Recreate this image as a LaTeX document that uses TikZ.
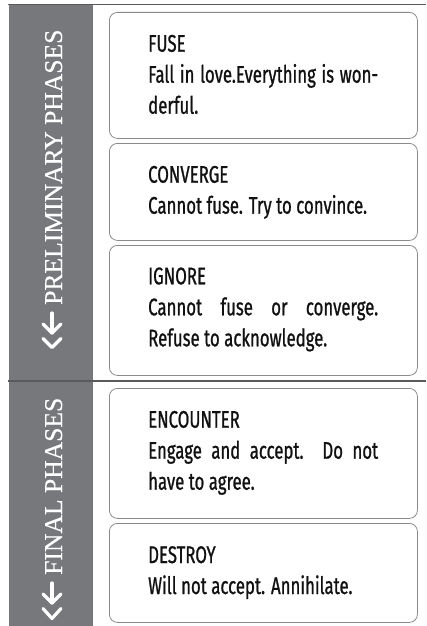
\documentclass[tikz,border=0pt]{standalone}
\usepackage{fontspec}
\setmainfont{Liberation Serif}
\newfontfamily\bodyfont[FakeStretch=0.70, FakeBold=0.9]{Fira Sans}
\newfontfamily\sidefont[FakeBold=0.4]{Liberation Serif}
\definecolor{sidegray}{HTML}{76787C}
\definecolor{boxgray}{HTML}{8A8A8A}
\definecolor{rulegray}{HTML}{5A5A5A}
\definecolor{textblack}{HTML}{111111}
\tikzset{
  phasebox/.style={draw=boxgray, line width=0.8pt, rounded corners=8pt, anchor=north west,
    inner sep=0pt, minimum width=308pt},
  phasetext/.style={anchor=base west, inner sep=0pt, text width=230pt, align=justify,
    font=\bodyfont\fontsize{24}{31}\selectfont, text=textblack},
  sidelabel/.style={anchor=base west, rotate=90, inner sep=0pt, text=white,
    font=\sidefont\fontsize{25.6}{30}\selectfont},
  icon/.style={draw=white, line width=3.2pt, line cap=round, line join=round},
  rulestyle/.style={draw=rulegray, line width=1.3pt}
}
\begin{document}
\begin{tikzpicture}[x=1pt, y=-1pt]
\useasboundingbox (0,0) rectangle (426,626);
% side column
\fill[sidegray] (8.5,4.5) rectangle (93,626);
\coordinate (tl) at (8,4.5);
\coordinate (tr) at (426,4.5);
\coordinate (sl) at (8,381);
\coordinate (sr) at (426,381);
\draw[rulestyle] (tl) -- (tr);
\draw[rulestyle] (sl) -- (sr);
% side labels
\node[sidelabel] (lab1) at (62,305) {PRELIMINARY PHASES};
\node[sidelabel] (lab2) at (62,575) {FINAL PHASES};
% icons
\draw[icon] (52,313) -- (52,333);
\draw[icon] (43,324) -- (52,333) -- (61,324);
\draw[icon] (43,338.5) -- (52,347.5) -- (61,338.5);
\draw[icon] (52,583) -- (52,603);
\draw[icon] (43,594) -- (52,603) -- (61,594);
\draw[icon] (43,608.5) -- (52,618.5) -- (61,608.5);
% boxes
\node[phasebox, minimum height=126pt] (b1) at (109,12) {};
\node[phasebox, minimum height=97pt] (b2) at (109,143) {};
\node[phasebox, minimum height=130pt] (b3) at (109,245) {};
\node[phasebox, minimum height=130pt] (b4) at (109,388) {};
\node[phasebox, minimum height=99pt] (b5) at (109,523) {};
% texts
\node[phasetext] (t1) at (148,51.7) {FUSE\\Fall in love.Everything is won-\linebreak derful.};
\node[phasetext] (t2) at (148,182.7) {CONVERGE\\Cannot fuse. Try to convince.};
\node[phasetext] (t3) at (148,284.3) {IGNORE\\Cannot fuse or converge.\linebreak Refuse to acknowledge.};
\node[phasetext] (t4) at (148,427.7) {ENCOUNTER\\Engage and accept.\ \ Do not\linebreak have to agree.};
\node[phasetext] (t5) at (148,563) {DESTROY\\Will not accept. Annihilate.};
\end{tikzpicture}
\end{document}
